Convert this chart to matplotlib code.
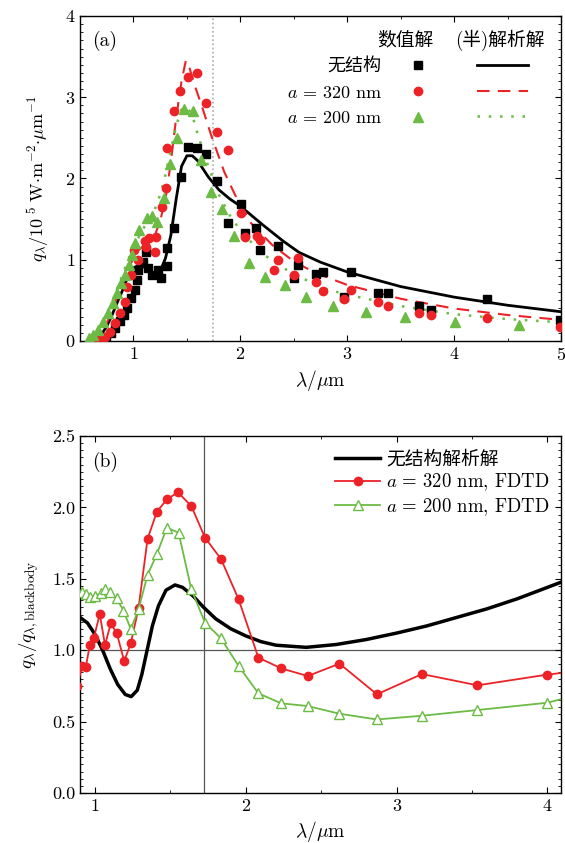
import matplotlib
matplotlib.use("Agg")
import matplotlib.pyplot as plt
from matplotlib.lines import Line2D
from matplotlib.ticker import MultipleLocator

plt.rcParams['font.family'] = ['cmr10', 'Noto Sans CJK SC', 'DejaVu Serif']
plt.rcParams['mathtext.fontset'] = 'cm'
plt.rcParams['axes.formatter.use_mathtext'] = True
plt.rcParams['font.size'] = 12

# ---------------- Panel (a) data ----------------
# analytic curves
a_lam_black = [0.60, 0.65, 0.70, 0.75, 0.80, 0.85, 0.90, 0.95, 1.00, 1.05, 1.10, 1.15, 1.20, 1.25,
               1.30, 1.35, 1.40, 1.45, 1.50, 1.55, 1.60, 1.70, 1.80, 1.90, 2.00, 2.20, 2.40, 2.55,
               2.75, 3.00, 3.50, 4.00, 4.50, 5.00]
a_val_black = [0.00, 0.02, 0.08, 0.18, 0.32, 0.48, 0.63, 0.80, 0.90, 0.93, 0.91, 0.86, 0.83, 0.86,
               1.02, 1.30, 1.75, 2.15, 2.28, 2.28, 2.22, 2.02, 1.86, 1.75, 1.66, 1.44, 1.23, 1.09,
               0.97, 0.85, 0.67, 0.54, 0.44, 0.36]

a_lam_red = [0.60, 0.65, 0.70, 0.75, 0.80, 0.85, 0.90, 0.95, 1.00, 1.05, 1.10, 1.15, 1.20, 1.25,
             1.30, 1.35, 1.40, 1.45, 1.49, 1.52, 1.58, 1.65, 1.73, 1.85, 1.95, 2.10, 2.30, 2.50,
             2.70, 3.00, 3.50, 4.00, 4.50, 5.00]
a_val_red = [0.00, 0.03, 0.10, 0.22, 0.38, 0.55, 0.72, 0.88, 1.02, 1.12, 1.18, 1.22, 1.30, 1.48,
             1.75, 2.20, 2.75, 3.20, 3.45, 3.38, 3.12, 2.85, 2.52, 2.08, 1.80, 1.45, 1.18, 0.98,
             0.84, 0.69, 0.52, 0.40, 0.32, 0.26]

a_lam_green = [0.60, 0.65, 0.70, 0.75, 0.80, 0.85, 0.90, 0.95, 1.00, 1.05, 1.10, 1.15, 1.20, 1.25,
               1.30, 1.35, 1.40, 1.45, 1.50, 1.55, 1.60, 1.70, 1.80, 1.90, 2.00, 2.20, 2.40, 2.60,
               2.80, 3.00, 3.50, 4.00, 4.50, 5.00]
a_val_green = [0.02, 0.08, 0.18, 0.32, 0.48, 0.65, 0.82, 1.00, 1.15, 1.28, 1.40, 1.50, 1.62, 1.80,
               2.05, 2.35, 2.65, 2.85, 2.88, 2.78, 2.55, 2.15, 1.80, 1.55, 1.36, 1.08, 0.90, 0.76,
               0.64, 0.57, 0.43, 0.33, 0.27, 0.23]

# numerical points
a_sq_lam = [0.697, 0.744, 0.79, 0.829, 0.87, 0.91, 0.942, 0.98, 1.017, 1.036, 1.04, 1.09, 1.12,
            1.136, 1.174, 1.23, 1.26, 1.31, 1.318, 1.378, 1.444, 1.513, 1.59, 1.675, 1.78, 1.88,
            2.005, 2.04, 2.146, 2.187, 2.353, 2.50, 2.54, 2.71, 2.773, 2.97, 3.04, 3.284, 3.378,
            3.67, 3.786, 4.31, 4.99]
a_sq_val = [0.02, 0.045, 0.095, 0.156, 0.24, 0.32, 0.40, 0.525, 0.63, 0.75, 0.87, 0.975, 1.10,
            0.895, 0.81, 0.87, 0.77, 0.92, 1.14, 1.395, 2.02, 2.39, 2.38, 2.30, 1.97, 1.456,
            1.69, 1.333, 1.387, 1.12, 1.169, 0.78, 0.935, 0.82, 0.845, 0.537, 0.853, 0.587, 0.587,
            0.43, 0.38, 0.517, 0.26]

a_ci_lam = [0.60, 0.68, 0.73, 0.776, 0.823, 0.87, 0.917, 0.942, 0.98, 1.005, 1.042, 1.111, 1.12,
            1.143, 1.20, 1.215, 1.268, 1.303, 1.318, 1.378, 1.44, 1.513, 1.59, 1.679, 1.78, 1.883,
            2.008, 2.046, 2.155, 2.187, 2.312, 2.353, 2.50, 2.54, 2.71, 2.773, 2.97, 3.04, 3.29,
            3.378, 3.67, 3.786, 4.31, 4.99]
a_ci_val = [0.01, 0.02, 0.053, 0.115, 0.218, 0.34, 0.484, 0.668, 0.81, 1.12, 0.997, 1.235, 1.16,
            1.264, 1.10, 1.276, 1.653, 1.887, 2.38, 2.835, 3.077, 3.245, 3.30, 2.925, 2.576, 2.35,
            1.57, 1.276, 1.292, 1.243, 0.874, 0.997, 0.81, 1.018, 0.73, 0.62, 0.517, 0.628, 0.484,
            0.435, 0.34, 0.32, 0.28, 0.176]

a_tr_lam = [0.588, 0.62, 0.666, 0.713, 0.76, 0.807, 0.845, 0.885, 0.917, 0.955, 0.986, 1.017,
            1.049, 1.13, 1.177, 1.221, 1.287, 1.34, 1.403, 1.475, 1.553, 1.632, 1.723, 1.826,
            1.945, 2.077, 2.234, 2.416, 2.616, 2.87, 3.175, 3.545, 4.006, 4.61]
a_tr_val = [0.033, 0.074, 0.135, 0.238, 0.34, 0.464, 0.587, 0.71, 0.81, 0.935, 1.058, 1.202,
            1.366, 1.51, 1.538, 1.468, 1.76, 2.18, 2.495, 2.85, 2.835, 2.228, 1.837, 1.62,
            1.29, 0.956, 0.79, 0.69, 0.537, 0.43, 0.36, 0.30, 0.238, 0.197]

# ---------------- Panel (b) data ----------------
b_lam_black = [0.90, 0.95, 1.00, 1.05, 1.10, 1.15, 1.20, 1.24, 1.28, 1.31, 1.345, 1.38, 1.42,
               1.47, 1.53, 1.58, 1.65, 1.72, 1.80, 1.90, 2.00, 2.10, 2.20, 2.40, 2.60, 2.80,
               3.00, 3.20, 3.40, 3.60, 3.80, 4.00, 4.10]
b_val_black = [1.23, 1.19, 1.11, 1.00, 0.87, 0.76, 0.69, 0.675, 0.72, 0.83, 1.00, 1.17, 1.31,
               1.42, 1.457, 1.44, 1.38, 1.30, 1.22, 1.15, 1.10, 1.06, 1.035, 1.02, 1.04, 1.075,
               1.12, 1.17, 1.23, 1.29, 1.36, 1.44, 1.48]

b_lam_red = [0.88, 0.916, 0.938, 0.965, 0.991, 1.031, 1.066, 1.104, 1.144, 1.193, 1.237, 1.288,
             1.348, 1.41, 1.476, 1.549, 1.638, 1.729, 1.835, 1.952, 2.083, 2.234, 2.41, 2.621,
             2.869, 3.168, 3.536, 3.999, 4.25]
b_val_red = [0.75, 0.889, 0.880, 1.036, 1.083, 1.253, 1.036, 1.188, 1.118, 0.924, 1.048, 1.293,
             1.779, 1.970, 2.056, 2.106, 2.010, 1.788, 1.639, 1.356, 0.948, 0.873, 0.819, 0.906,
             0.691, 0.833, 0.754, 0.829, 0.86]

b_lam_green = [0.88, 0.916, 0.938, 0.967, 1.0, 1.038, 1.064, 1.10, 1.144, 1.188, 1.237, 1.288,
               1.348, 1.41, 1.476, 1.554, 1.638, 1.729, 1.835, 1.952, 2.083, 2.234, 2.41, 2.621,
               2.869, 3.168, 3.536, 3.999, 4.25]
b_val_green = [1.42, 1.405, 1.394, 1.375, 1.382, 1.398, 1.429, 1.405, 1.363, 1.277, 1.148, 1.286,
               1.527, 1.674, 1.858, 1.823, 1.427, 1.193, 1.083, 0.889, 0.698, 0.628, 0.609, 0.555,
               0.515, 0.541, 0.581, 0.632, 0.70]

lam_ref_a = 1.74
lam_ref_b = 1.725
val_ref = 1.0

RED = '#ec2227'
GREEN = '#6cbb45'

fig = plt.figure(figsize=(5.65, 8.43), dpi=100)
axa = fig.add_axes([80/565, 1-341/843, 481/565, 325/843])
axb = fig.add_axes([80/565, 1-793/843, 481/565, 357/843])

# ---- panel (a)
axa.axvline(lam_ref_a, color='#aaaaaa', lw=1.2, ls=(0, (1, 1.5)), zorder=1)
axa.plot(a_lam_black, a_val_black, color='black', lw=2.0, zorder=3)
axa.plot(a_lam_red, a_val_red, color=RED, lw=1.5, ls=(0, (6, 4)), zorder=3)
axa.plot(a_lam_green, a_val_green, color=GREEN, lw=1.8, ls=(0, (1, 3.5)), zorder=3)
axa.plot(a_sq_lam, a_sq_val, 's', color='black', ms=5.5, ls='none', zorder=4)
axa.plot(a_ci_lam, a_ci_val, 'o', color=RED, ms=6, ls='none', zorder=4)
axa.plot(a_tr_lam, a_tr_val, '^', color=GREEN, ms=6.5, ls='none', zorder=4)

axa.set_xlim(0.5, 5)
axa.set_ylim(0, 4)
axa.xaxis.set_major_locator(MultipleLocator(1))
axa.xaxis.set_minor_locator(MultipleLocator(0.5))
axa.yaxis.set_major_locator(MultipleLocator(1))
axa.yaxis.set_minor_locator(MultipleLocator(0.1))
axa.set_xlabel(r'$\lambda/\mathrm{\mu m}$', fontsize=14)
axa.set_ylabel(r'$q_{\lambda}/10^{\ 5}\ \mathrm{W{\cdot}m^{-2}{\cdot}\mu m^{-1}}$', fontsize=13,
               labelpad=10)
axa.text(0.025, 0.955, '(a)', transform=axa.transAxes, fontsize=14, va='top')

hs = [Line2D([], [], marker='s', color='black', ls='none', ms=5.5),
      Line2D([], [], marker='o', color=RED, ls='none', ms=6),
      Line2D([], [], marker='^', color=GREEN, ls='none', ms=6.5),
      Line2D([], [], color='black', lw=2.0),
      Line2D([], [], color=RED, lw=1.5, ls=(0, (6, 4))),
      Line2D([], [], color=GREEN, lw=1.8, ls=(0, (1, 3.5)))]
labels = ['无结构', r'$a\,=\,320$ nm', r'$a\,=\,200$ nm', '', '', '']
leg = axa.legend(hs, labels, ncol=2, markerfirst=False, frameon=False, fontsize=13,
                 loc='upper right', bbox_to_anchor=(0.965, 0.922), handlelength=2.8,
                 handletextpad=0.6, columnspacing=1.3, labelspacing=0.55)
axa.text(0.676, 0.926, '数值解', transform=axa.transAxes, fontsize=13.5, ha='center', va='center')
axa.text(0.873, 0.926, '(半)解析解', transform=axa.transAxes, fontsize=13.5, ha='center', va='center')

# ---- panel (b)
axb.axvline(lam_ref_b, color='#555555', lw=0.9, zorder=1)
axb.axhline(val_ref, color='#555555', lw=0.9, zorder=1)
axb.plot(b_lam_black, b_val_black, color='black', lw=2.5, zorder=3, label='无结构解析解')
axb.plot(b_lam_red, b_val_red, color=RED, lw=1.3, marker='o', ms=6, zorder=4,
         label=r'$a\,=\,320$ nm, FDTD')
axb.plot(b_lam_green, b_val_green, color=GREEN, lw=1.3, marker='^', ms=7, mfc='white',
         mec=GREEN, zorder=4, label=r'$a\,=\,200$ nm, FDTD')
axb.set_xlim(0.9, 4.09)
axb.set_ylim(0, 2.5)
axb.xaxis.set_major_locator(MultipleLocator(1))
axb.xaxis.set_minor_locator(MultipleLocator(0.5))
axb.yaxis.set_major_locator(MultipleLocator(0.5))
axb.yaxis.set_minor_locator(MultipleLocator(0.05))
axb.yaxis.set_major_formatter(plt.FuncFormatter(lambda v, p: f'{v:.1f}'))
axb.set_xlabel(r'$\lambda/\mathrm{\mu m}$', fontsize=14)
axb.set_ylabel(r'$q_{\lambda}/q_{\lambda,\mathrm{blackbody}}$', fontsize=13.5, labelpad=8)
axb.text(0.025, 0.955, '(b)', transform=axb.transAxes, fontsize=14, va='top')
axb.legend(loc='upper right', frameon=False, fontsize=13.5, handlelength=2.4,
           handletextpad=0.3, labelspacing=0.15, bbox_to_anchor=(1.0, 0.99), borderaxespad=0.2)

for ax in (axa, axb):
    ax.tick_params(which='both', direction='in', top=True, right=True, labelsize=13)
    ax.tick_params(which='major', length=4, width=0.8)
    ax.tick_params(which='minor', length=2, width=0.6)
    for s in ax.spines.values():
        s.set_linewidth(1.0)

fig.savefig('out.png', dpi=100)
